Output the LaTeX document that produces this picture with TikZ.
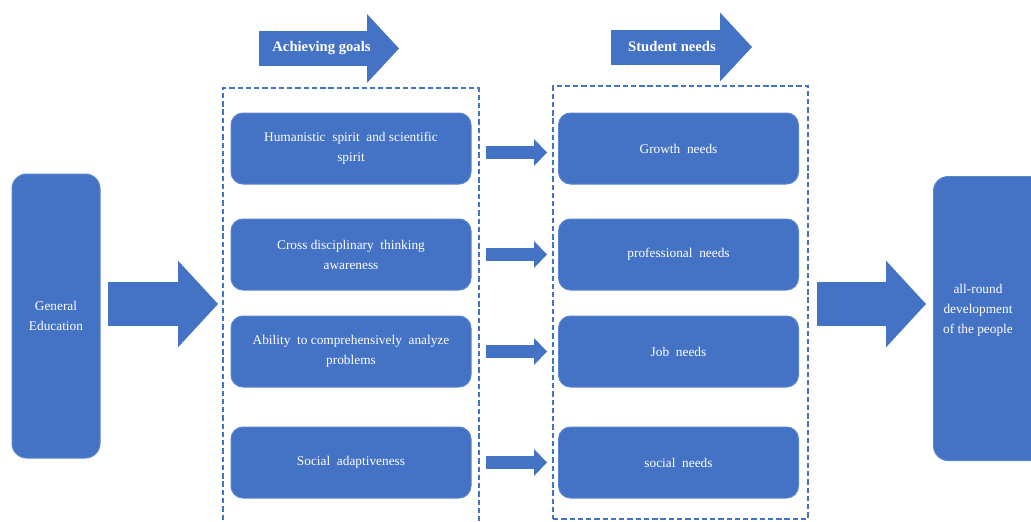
\documentclass[tikz,border=0pt]{standalone}
\usepackage{fontspec}
\setmainfont{Liberation Serif}
\usetikzlibrary{arrows.meta}
\definecolor{boxblue}{HTML}{4472C4}
\definecolor{edgeblue}{HTML}{5B84CF}
\tikzset{every picture/.style={line width=0.75pt}}
\tikzset{
  bluebox/.style={draw=edgeblue, fill=boxblue, text=white, align=center, inner sep=0pt,
    font=\fontsize{10}{15}\selectfont},
  tallbox/.style={bluebox, rounded corners=11pt, minimum width=66pt, minimum height=213pt},
  itembox/.style={bluebox, rounded corners=9pt, minimum width=180pt, minimum height=53.25pt},
  dashbox/.style={draw=boxblue, line width=1.6pt, dash pattern=on 4pt off 2.2pt, inner sep=0pt},
  headtext/.style={text=white, font=\bfseries\fontsize{11}{13}\selectfont},
  bigarrow/.style={draw=boxblue, line width=33pt, -{Triangle[length=30pt, width=65pt, line width=0pt]}},
  headarrow/.style={draw=boxblue, line width=26.25pt, -{Triangle[length=24pt, width=51.75pt, line width=0pt]}},
  smallarrow/.style={draw=boxblue, line width=9.5pt, -{Triangle[length=9.75pt, width=20.25pt, line width=0pt]}}
}
\begin{document}
\begin{tikzpicture}[x=0.75pt,y=0.75pt,yscale=-1,xscale=1]
\useasboundingbox (0,0) rectangle (1031,521);
\clip (0,0) rectangle (1031,521);

%Shape: Dashed frames
\node[dashbox, minimum width=192pt, minimum height=331.5pt] (goals) at (351,309) {};
\node[dashbox, minimum width=191.25pt, minimum height=324.75pt] (needs) at (680.5,302.5) {};

%Shape: Header arrows
\coordinate (goalstail) at (259,48.5);
\coordinate (goalstip) at (399,48.5);
\draw[headarrow] (goalstail) -- (goalstip);
\coordinate (needstail) at (611,47);
\coordinate (needstip) at (752,47);
\draw[headarrow] (needstail) -- (needstip);
% Text Node
\node[headtext] (goalstitle) at (321.5,48.5) {Achieving goals};
% Text Node
\node[headtext] (needstitle) at (672,47) {Student needs};

%Shape: Rounded Rect
\node[tallbox] (edu) at (56,316) {General\\Education};
\node[tallbox, minimum width=86.25pt, anchor=west] (dev) at (933,318.5) {};
% Text Node
\node[text=white, align=center, font=\fontsize{10}{15}\selectfont] (devtext) at (978,310) {all-round\\development\\of the people};

%Shape: Goal boxes
\node[itembox] (g1) at (351,148.5) {Humanistic~ spirit~ and scientific\\spirit};
\node[itembox] (g2) at (351,254.5) {Cross disciplinary~ thinking\\awareness};
\node[itembox] (g3) at (351,351.5) {Ability~ to comprehensively~ analyze\\problems};
\node[itembox] (g4) at (351,462.5) {Social~ adaptiveness};

%Shape: Need boxes
\node[itembox] (n1) at (678.5,148.5) {Growth~ needs};
\node[itembox] (n2) at (678.5,254.5) {professional~ needs};
\node[itembox] (n3) at (678.5,351.5) {Job~ needs};
\node[itembox] (n4) at (678.5,462.5) {social~ needs};

%Straight Lines: block arrows
\coordinate (eduout) at (108,304);
\coordinate (goalsin) at (218,304);
\draw[bigarrow] (eduout) -- (goalsin);
\coordinate (needsout) at (817,304);
\coordinate (devin) at (926,304);
\draw[bigarrow] (needsout) -- (devin);
\foreach \i/\dy in {1/3pt,2/0pt,3/0pt,4/0pt}
  \draw[smallarrow] ([xshift=10.5pt,yshift=\dy]g\i.east) -- ([xshift=-8.25pt,yshift=\dy]n\i.west);

\end{tikzpicture}
\end{document}
